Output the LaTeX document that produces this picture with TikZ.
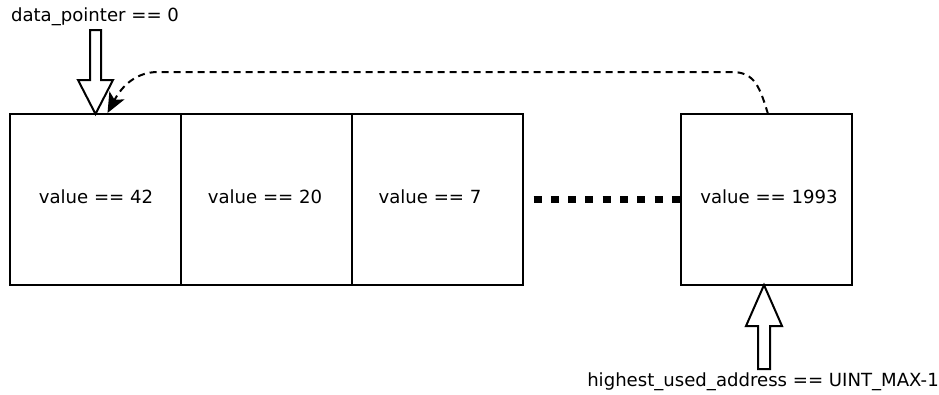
\documentclass[tikz,border=0pt]{standalone}
\usepackage{fontspec}
\setmainfont{DejaVu Sans}
\usetikzlibrary{arrows.meta,calc}
\begin{document}
\begin{tikzpicture}[x=1pt,y=-1pt,
  cell/.style={draw,line width=2pt,minimum width=171pt,minimum height=171pt,inner sep=0pt,outer sep=0pt},
  lbl/.style={font=\fontsize{18.1}{21}\selectfont,inner sep=0pt},
  hollow/.style={draw,line width=2pt,fill=white,line join=miter},
  dots/.style={line width=7pt,dash pattern=on 8pt off 9.3pt},
  back/.style={line width=2pt,dash pattern=on 7pt off 5pt,-{Stealth[length=20pt,width=17pt,inset=5pt]}}]
\useasboundingbox (0,0) rectangle (939,394);

% memory cells
\node[cell] (c1) at (95.5,199.5) {};
\node[cell] (c2) at (266.5,199.5) {};
\node[cell] (c3) at (437,199.5) {};
\node[cell] (c4) at (766,199.5) {};

\node[lbl] (v1) at (96,197) {value == 42};
\node[lbl] (v2) at (265,197) {value == 20};
\node[lbl] (v3) at (430,197) {value == 7};
\node[lbl] (v4) at (769,197) {value == 1993};

% elided cells between the third and the last
\draw[dots] ($(c3.east)+(11,0)$) -- (c4.west);

% wrap-around from the last cell back to the first
\draw[back] ($(c4.north)+(2,0)$) .. controls (760,88) and (755,72) .. (732,72)
  -- (158,72) .. controls (136,72) and (122,86) .. ($(c1.north)+(12,-1)$);

% pointer labels
\node[lbl] (dp) at (95,17) {data\_pointer == 0};
\node[lbl] (hu) at (763,382) {highest\_used\_address == UINT\_MAX-1};

% hollow arrow: data pointer into the first cell
\coordinate (t1) at ($(c1.north)+(0,0)$);
\draw[hollow] ($(t1)+(-5.5,-84)$) -- ($(t1)+(5.5,-84)$) -- ($(t1)+(5.5,-34)$)
  -- ($(t1)+(17.5,-34)$) -- (t1) -- ($(t1)+(-17.5,-34)$) -- ($(t1)+(-5.5,-34)$) -- cycle;

% hollow arrow: highest used address into the last cell
\coordinate (t2) at ($(c4.south)+(-2,0)$);
\draw[hollow] ($(t2)+(-6,84)$) -- ($(t2)+(6,84)$) -- ($(t2)+(6,41)$)
  -- ($(t2)+(18,41)$) -- (t2) -- ($(t2)+(-18,41)$) -- ($(t2)+(-6,41)$) -- cycle;
\end{tikzpicture}
\end{document}
